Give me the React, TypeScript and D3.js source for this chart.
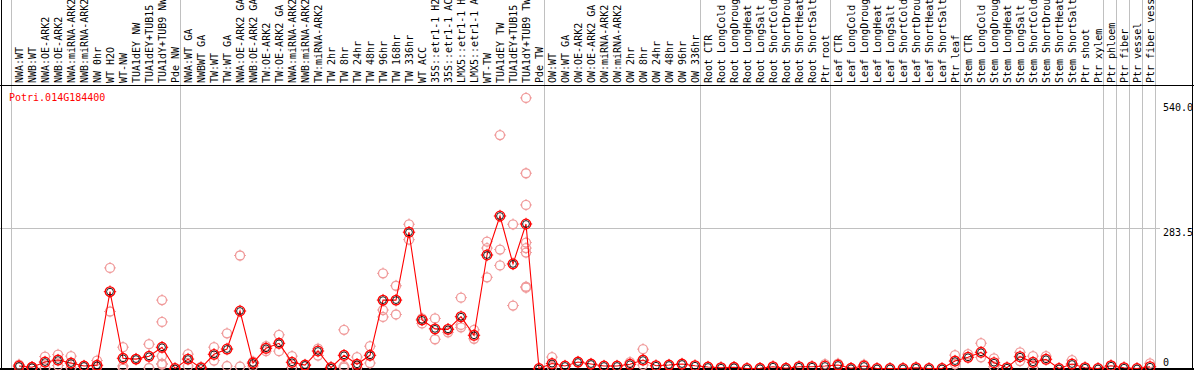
import React from "react";
import * as d3 from "d3";

const geneId = "Potri.014G184400";

const categories: string[] = [
  "NWA:WT", "NWB:WT", "NWA:OE-ARK2", "NWB:OE-ARK2", "NWA:miRNA-ARK2", "NWB:miRNA-ARK2",
  "NW 0hr", "WT H2O", "WT-NW", "TUA1dEY NW", "TUA1dEY+TUB15 NW", "TUA1dY+TUB9 NW", "Pde NW",
  "NWA:WT GA", "NWBWT GA", "TW:WT", "TW:WT GA", "NWA:OE-ARK2 GA", "NWB:OE-ARK2 GA",
  "TW:OE-ARK2", "TW:OE-ARK2 GA", "NWA:miRNA-ARK2", "NWB:miRNA-ARK2", "TW:miRNA-ARK2",
  "TW 2hr", "TW 8hr", "TW 24hr", "TW 48hr", "TW 96hr", "TW 168hr", "TW 336hr", "WT ACC",
  "35S::etr1-1 H2O", "35S::etr1-1 ACC", "LMX5::etr1-1 H2O", "LMX5::etr1-1 ACC",
  "WT-TW", "TUA1dEY TW", "TUA1dEY+TUB15 TW", "TUA1dY+TUB9 TW", "Pde TW",
  "OW:WT", "OW:WT GA", "OW:OE-ARK2", "OW:OE-ARK2 GA", "OW:miRNA-ARK2", "OW:miRNA-ARK2 GA",
  "OW 2hr", "OW 8hr", "OW 24hr", "OW 48hr", "OW 96hr", "OW 336hr",
  "Root CTR", "Root LongCold", "Root LongDrought", "Root LongHeat", "Root LongSalt",
  "Root ShortCold", "Root ShortDrought", "Root ShortHeat", "Root ShortSalt", "Ptr root",
  "Leaf CTR", "Leaf LongCold", "Leaf LongDrought", "Leaf LongHeat", "Leaf LongSalt",
  "Leaf ShortCold", "Leaf ShortDrought", "Leaf ShortHeat", "Leaf ShortSalt", "Ptr leaf",
  "Stem CTR", "Stem LongCold", "Stem LongDrought", "Stem LongHeat", "Stem LongSalt",
  "Stem ShortCold", "Stem ShortDrought", "Stem ShortHeat", "Stem ShortSalt", "Ptr shoot", "Ptr xylem",
  "Ptr phloem", "Ptr fiber", "Ptr vessel", "Ptr fiber vessel",
];

const meanValues: number[] = [
  5, 2.4, 13, 17, 11, 5, 6.5, 155, 20.6, 19, 24.6, 42.8, 0,
  19, 1, 28.6, 39.3, 116, 11, 40.8, 50.8, 12.5, 7, 35.3, 1.6, 26.6, 8.5, 26.6, 138, 138,
  275, 98, 80, 79, 104.5, 67, 229, 307.7, 211, 291.6, 0,
  10, 5, 13, 9, 5, 5, 8.5, 17, 5.6, 7, 9, 5.6,
  3, 1.6, 2.4, 0, 0.4, 3.6, 0.4, 3.6, 3.6, 5,
  7, 0.4, 5, 0, 0, 0, 1.6, 0, 0, 15,
  22.6, 32.7, 11.7, 1.6, 23.8, 12.5, 18.6, 0, 9, 1.6, 0,
  5.6, 1.6, 0, 3.6,
];

const replicateValues: number[][] = [
  [8, 3], [3, 1], [24, 1], [28, 6], [25, 1], [5, 4], [16, 3], [203, 115], [43, 5, 0], [19], [49, 1], [138, 94, 25, 10, 8], [0],
  [29, 5], [3], [43, 16], [71, 5], [228, 4], [14, 5], [45, 35], [68, 35], [25, 2], [6], [40, 26], [3],
  [78, 5, 2], [23, 2], [45, 11], [192, 118, 104], [167, 109], [291, 260], [101, 91], [101, 59], [80, 73],
  [143, 88, 83], [78, 60], [256, 243, 184], [471, 240, 208], [291, 127], [546, 394, 330, 254, 243, 234, 165, 163], [0],
  [23, 3], [5], [13], [9], [5], [5], [13], [39, 7], [5.6], [7], [9], [5.6],
  [3], [1.6], [2.4], [0], [0.4], [3.6], [0.4], [3.6], [3.6], [9],
  [10], [0.4], [8], [0], [0], [0], [1.6], [0], [0], [27, 9],
  [29], [51, 22.6], [20.6, 3.6], [1.6], [32.7, 15], [25, 2], [25], [0], [17], [1.6], [0],
  [5.6], [1.6], [0], [10.5],
];

// last index of each group (vertical separators after these)
const groupEnds: number[] = [12, 40, 52, 62, 72, 83, 84, 85, 86, 87];

const yTicks: number[] = [0, 283.5, 540];
const yTickLabels: string[] = ["0", "283.5", "540.0"];

const W = 1194;
const H = 370;
const FONT = "'DejaVu Sans Mono', 'Liberation Mono', monospace";

function Marker({ cx, cy, color, r }: { cx: number; cy: number; color: string; r: number }) {
  const t = 1.4;
  return (
    <g>
      <circle cx={cx} cy={cy} r={r} fill="none" stroke={color} strokeWidth={1.3} />
      <line x1={cx} x2={cx} y1={cy - r - t} y2={cy - r + 0.5} stroke={color} strokeWidth={1} />
      <line x1={cx} x2={cx} y1={cy + r - 0.5} y2={cy + r + t} stroke={color} strokeWidth={1} />
      <line x1={cx - r - t} x2={cx - r + 0.5} y1={cy} y2={cy} stroke={color} strokeWidth={1} />
      <line x1={cx + r - 0.5} x2={cx + r + t} y1={cy} y2={cy} stroke={color} strokeWidth={1} />
    </g>
  );
}

export default function App() {
  const idx = categories.map((_, i) => String(i));
  const xs = d3
    .scalePoint<string>()
    .domain(idx)
    .range([19, 19 + 13 * (categories.length - 1)]);
  const x = (i: number) => xs(String(i)) as number;
  const y = d3.scaleLinear().domain([0, 540]).range([368.5, 368.5 - 540 * 0.4956]);

  const lineGen = d3
    .line<number>()
    .x((_, i) => x(i))
    .y((d) => y(d));

  const sepX = (i: number) => Math.round(x(i) + 5) + 0.5;
  const separators = [Math.round(x(0) - 8) + 0.5, ...groupEnds.map(sepX)];

  const tickLabelY = [365.5, 236, 111];
  const gy = Math.round(y(283.5)) + 0.5;

  return (
    <svg
      width={W}
      height={H}
      style={{ position: "absolute", left: 0, top: 0, background: "#fff" }}
      fontFamily={FONT}
    >
      <rect x={0} y={0} width={W} height={H} fill="#fff" />
      {separators.map((sx, i) => (
        <line key={"s" + i} x1={sx} x2={sx} y1={0} y2={H} stroke="#c0c0c0" strokeWidth={1} />
      ))}
      <line x1={0} x2={1160} y1={gy} y2={gy} stroke="#c0c0c0" strokeWidth={1} />

      {categories.map((c, i) => (
        <text
          key={"lbl" + i}
          transform={`translate(${x(i) + 3.5},83) rotate(-90)`}
          fontSize={10}
          fill="#000"
        >
          {c}
        </text>
      ))}

      <line x1={0} x2={W} y1={85.5} y2={85.5} stroke="#000" strokeWidth={1} />
      <line x1={1.5} x2={1.5} y1={0} y2={H} stroke="#000" strokeWidth={1} />
      <line x1={1192.5} x2={1192.5} y1={0} y2={H} stroke="#000" strokeWidth={1} />
      <line x1={0} x2={W} y1={369} y2={369} stroke="#000" strokeWidth={2} />

      <text x={9} y={101} fontSize={10} fill="#ff0000">
        {geneId}
      </text>

      {yTicks.map((t, i) => (
        <text key={"t" + i} x={1163} y={tickLabelY[i]} fontSize={10} fill="#000">
          {yTickLabels[i]}
        </text>
      ))}

      {replicateValues.map((reps, i) =>
        reps.map((v, j) => <Marker key={`r${i}-${j}`} cx={x(i)} cy={y(v)} color="#f09a9a" r={4.5} />)
      )}

      <path d={lineGen(meanValues) || ""} fill="none" stroke="#ff0000" strokeWidth={1.1} />

      {meanValues.map((v, i) => (
        <g key={"m" + i}>
          <Marker cx={x(i)} cy={y(v)} color="#ff0000" r={4.8} />
          <circle cx={x(i)} cy={y(v)} r={3.4} fill="none" stroke="#000" strokeWidth={0.9} />
        </g>
      ))}
    </svg>
  );
}
